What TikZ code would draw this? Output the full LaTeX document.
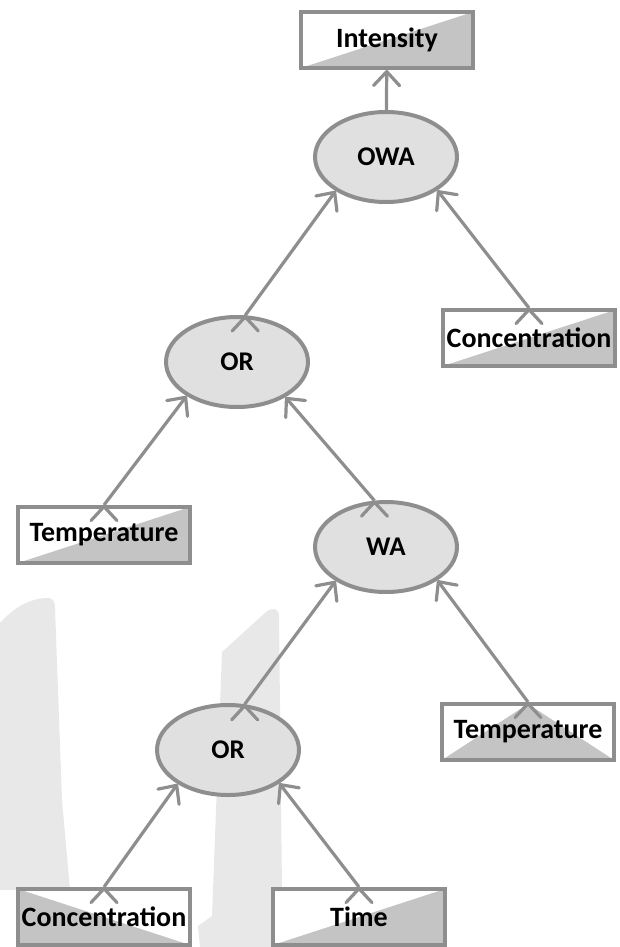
\documentclass[tikz,border=0pt]{standalone}
\usepackage{fontspec}
\setmainfont{Carlito}
\usetikzlibrary{shapes.geometric,arrows.meta}
\definecolor{linegray}{HTML}{8E8E8E}
\definecolor{opgray}{HTML}{E0E0E0}
\definecolor{boxgray}{HTML}{C4C4C4}
\definecolor{blobgray}{HTML}{E8E8E8}
\begin{document}
\begin{tikzpicture}[x=1pt,y=-1pt]
        \tikzstyle{op}=[ellipse,line width=4pt,draw=linegray,fill=opgray,minimum width=142pt,minimum height=90pt,font=\bfseries\fontsize{27}{30}\selectfont]
        \tikzstyle{leaf}=[rectangle,line width=4pt,draw=linegray,fill=white,minimum width=172pt,minimum height=56pt,inner sep=0pt,font=\bfseries\fontsize{28}{30}\selectfont]
        \tikzstyle{grayse}=[path picture={\fill[boxgray] (path picture bounding box.south west) -- (path picture bounding box.south east) -- (path picture bounding box.north east) -- cycle;}]
        \tikzstyle{graysw}=[path picture={\fill[boxgray] (path picture bounding box.north west) -- (path picture bounding box.south east) -- (path picture bounding box.south west) -- cycle;}]
        \tikzstyle{grayup}=[path picture={\fill[boxgray] (path picture bounding box.south west) -- (path picture bounding box.north) -- (path picture bounding box.south east) -- cycle;}]
        \tikzstyle{edge}=[draw=linegray,line width=3.2pt,-{Straight Barb[length=14pt,width=26pt,round]}]
        \useasboundingbox (0,0) rectangle (620,947);
       % background shapes
       \begin{scope}
         \fill[blobgray] (0,623) .. controls (15,606) and (32,598) .. (48,598) .. controls (53,598) and (55,602) .. (55,608) -- (62,800) -- (70,890) -- (0,890) -- cycle;
         \fill[blobgray] (222,652) -- (266,612) .. controls (272,607) and (279,608) .. (279,616) -- (282,890) -- (282,947) -- (200,947) -- (198,926) -- (212,916) -- cycle;
       \end{scope}
       \begin{scope}
         \node [leaf,grayse] (intensity) at (387,40) {Intensity};
         \node [op] (owa) at (386,157) {OWA};
         \node [op] (or1) at (237,362) {OR};
         \node [leaf,grayse] (conc1) at (529,338) {Concentration};
         \node [leaf,grayse] (temp1) at (104,535) {Temperature};
         \node [op] (wa) at (386,547) {WA};
         \node [leaf,grayup] (temp2) at (528,732) {Temperature};
         \node [op] (or2) at (228,750) {OR};
         \node [leaf,graysw] (conc2) at (104,917) {Concentration};
         \node [leaf,grayse] (time) at (359,917) {Time};
         \path[edge] (owa) edge (intensity);
         \path[edge] (or1.80) edge (owa.214);
         \path[edge] (conc1.north) edge (owa.-33);
         \path[edge] (temp1.north) edge (or1.214);
         \path[edge] (wa.104) edge (or1.-36);
         \path[edge] (or2.70) edge (wa.214);
         \path[edge] (temp2.north) edge (wa.-33);
         \path[edge] (conc2.north) edge (or2.214);
         \path[edge] (time.north) edge (or2.-33);
        \end{scope}
      \end{tikzpicture}
\end{document}
